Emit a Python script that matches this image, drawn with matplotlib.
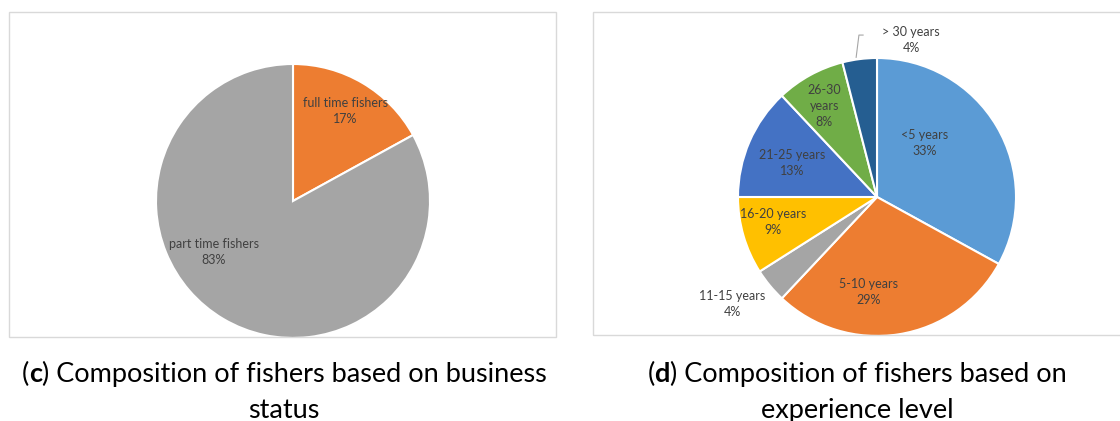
import matplotlib.pyplot as plt
from matplotlib.patches import Rectangle
from matplotlib.offsetbox import TextArea, HPacker, VPacker, AnchoredOffsetbox

plt.rcParams['font.family'] = ['Lato', 'DejaVu Sans']

# (c) business status
status_labels = ['full time fishers', 'part time fishers']
status_pct = [17, 83]
status_colors = ['#ED7D31', '#A5A5A5']

# (d) experience level
exp_labels = ['<5 years', '5-10 years', '11-15 years', '16-20 years',
              '21-25 years', '26-30\nyears', '> 30 years']
exp_pct = [33, 29, 4, 9, 13, 8, 4]
exp_colors = ['#5B9BD5', '#ED7D31', '#A5A5A5', '#FFC000',
              '#4472C4', '#70AD47', '#255E91']

W, H = 1120, 421
fig = plt.figure(figsize=(W / 100, H / 100), dpi=100)


def px_axes(cx, cy, r):
    # axes whose [-1, 1] square is the pie, given centre/radius in pixels
    return fig.add_axes([(cx - r) / W, (H - cy - r) / H, 2 * r / W, 2 * r / H])


def frame(x0, y0, x1, y1):
    fig.patches.append(Rectangle((x0 / W, 1 - y1 / H), (x1 - x0) / W, (y1 - y0) / H,
                                 transform=fig.transFigure, fill=False,
                                 edgecolor='#D9D9D9', linewidth=1.0))


def caption(x, y, letter, line1, line2, size=19.5):
    norm = dict(fontsize=size, color='black')
    bold = dict(fontsize=size, color='black', fontweight='bold')
    row1 = HPacker(children=[TextArea('(', textprops=norm),
                             TextArea(letter, textprops=bold),
                             TextArea(') ' + line1, textprops=norm)],
                   align='baseline', pad=0, sep=0)
    row2 = TextArea(line2, textprops=norm)
    box = VPacker(children=[row1, row2], align='center', pad=0, sep=8)
    fig.add_artist(AnchoredOffsetbox(loc='center', child=box, frameon=False,
                                     bbox_to_anchor=(x / W, 1 - y / H),
                                     bbox_transform=fig.transFigure,
                                     pad=0, borderpad=0))


frame(9, 12, 556, 337)
frame(593, 12, 1125, 335)

label_kw = dict(ha='center', va='center', fontsize=9, color='#404040',
                linespacing=1.4)

# left pie
ax1 = px_axes(293, 201, 137)
ax1.pie(status_pct, colors=status_colors, startangle=90, counterclock=False,
        radius=1, wedgeprops=dict(edgecolor='white', linewidth=1.5))
ax1.set_xlim(-1, 1)
ax1.set_ylim(-1, 1)
ax1.set_aspect('auto')
ax1.axis('off')
status_pos = [(0.38, 0.66), (-0.58, -0.37)]
for lab, v, (x, y) in zip(status_labels, status_pct, status_pos):
    ax1.text(x, y, f'{lab}\n{v}%', **label_kw)

# right pie
ax2 = px_axes(877, 197, 139)
ax2.pie(exp_pct, colors=exp_colors, startangle=90, counterclock=False,
        radius=1, wedgeprops=dict(edgecolor='white', linewidth=1.5))
ax2.set_xlim(-1, 1)
ax2.set_ylim(-1, 1)
ax2.set_aspect('auto')
ax2.axis('off')
exp_pos = [(0.345, 0.39), (-0.06, -0.68), (-1.04, -0.77), (-0.75, -0.18),
           (-0.61, 0.245), (-0.38, 0.655), (0.245, 1.13)]
for lab, v, (x, y) in zip(exp_labels, exp_pct, exp_pos):
    ax2.text(x, y, f'{lab}\n{v}%', clip_on=False, **label_kw)
# leader line for the smallest slice
ax2.plot([-0.10, -0.13, -0.15], [1.165, 1.165, 1.005], color='#A6A6A6',
         linewidth=0.8, clip_on=False)

caption(284, 392, 'c', 'Composition of fishers based on business', 'status')
caption(857, 392, 'd', 'Composition of fishers based on', 'experience level')

fig.savefig('out.png', dpi=100)
